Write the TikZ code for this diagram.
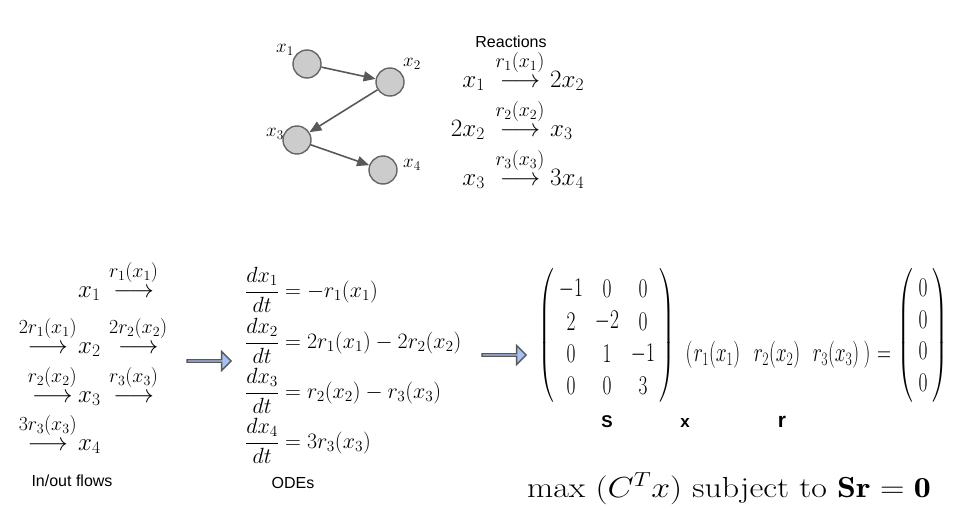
\RequirePackage{fix-cm}
\documentclass[tikz,border=0pt]{standalone}
\usepackage{amsmath}
\usepackage{graphicx}
\usepackage{fontspec}
\newfontfamily\arialf{Liberation Sans}
\usetikzlibrary{arrows.meta,shapes.arrows,matrix}
\definecolor{nodefill}{HTML}{CCCCCC}
\definecolor{nodeline}{HTML}{666666}
\definecolor{edgecol}{HTML}{595959}
\definecolor{blockfill}{HTML}{A4C2F4}
\definecolor{blockline}{HTML}{595959}
\newcommand\sx[1]{\scalebox{0.72}[1]{#1}}
\newcommand\flowarr[1]{\mathrel{\overset{\raisebox{5pt}{\fontsize{20}{24}\selectfont$#1$}}{\longrightarrow}}}
\begin{document}
\begin{tikzpicture}[x=1pt,y=-1pt,
  species/.style={circle, draw=nodeline, fill=nodefill, line width=1.4pt, minimum size=28pt, inner sep=0pt},
  splabel/.style={inner sep=0pt, font=\fontsize{19}{22}\selectfont},
  edge/.style={draw=edgecol, line width=1.6pt, -{Triangle[length=12pt,width=10pt]}},
  rx/.style={inner sep=0pt, font=\fontsize{25}{30}\selectfont},
  ode/.style={inner sep=0pt, font=\fontsize{22}{27}\selectfont},
  mx/.style={inner sep=0pt, font=\fontsize{27}{32}\selectfont},
  caption/.style={inner sep=0pt, font=\arialf\fontsize{16}{19}\selectfont},
  vlabel/.style={inner sep=0pt, font=\arialf\bfseries\fontsize{17}{20}\selectfont},
  block/.style={single arrow, draw=blockline, fill=blockfill, line width=1.3pt,
    minimum width=19pt, minimum height=44pt, single arrow head extend=4.5pt,
    single arrow head indent=0pt, inner sep=0pt}
]
\useasboundingbox (0,0) rectangle (960,522);

% --- network ---
\node[species] (n1) at (307,64) {};
\node[species] (n2) at (390,82) {};
\node[species] (n3) at (297,140) {};
\node[species] (n4) at (383,170) {};
\node[splabel] (l1) at (285,50) {$x_1$};
\node[splabel] (l2) at (412,64) {$x_2$};
\node[splabel] (l3) at (275,134) {$x_3$};
\node[splabel] (l4) at (412,165) {$x_4$};
\draw[edge] (n1) -- (n2);
\draw[edge] (n2) -- (n3);
\draw[edge] (n3) -- (n4);

% --- reactions ---
\node[caption] (reac) at (511,42) {Reactions};
\node[rx, anchor=base east] (ra1) at (485,87) {$x_1$};
\node[rx, anchor=base] (rr1) at (520,87) {$\flowarr{r_1(x_1)}$};
\node[rx, anchor=base west] (rb1) at (550,87) {$2x_2$};
\node[rx, anchor=base east] (ra2) at (485,136) {$2x_2$};
\node[rx, anchor=base] (rr2) at (520,136) {$\flowarr{r_2(x_2)}$};
\node[rx, anchor=base west] (rb2) at (550,136) {$x_3$};
\node[rx, anchor=base east] (ra3) at (485,185) {$x_3$};
\node[rx, anchor=base] (rr3) at (520,185) {$\flowarr{r_3(x_3)}$};
\node[rx, anchor=base west] (rb3) at (550,185) {$3x_4$};

% --- in/out flows ---
\node[rx, anchor=base west] (fx1) at (78,297) {$x_1$};
\node[rx, anchor=base west] (fo1) at (109,297) {$\flowarr{r_1(x_1)}$};
\node[rx, anchor=base east] (fi2) at (77,353) {$\flowarr{2r_1(x_1)}$};
\node[rx, anchor=base west] (fx2) at (78,353) {$x_2$};
\node[rx, anchor=base west] (fo2) at (109,353) {$\flowarr{2r_2(x_2)}$};
\node[rx, anchor=base east] (fi3) at (77,402) {$\flowarr{r_2(x_2)}$};
\node[rx, anchor=base west] (fx3) at (78,402) {$x_3$};
\node[rx, anchor=base west] (fo3) at (109,402) {$\flowarr{r_3(x_3)}$};
\node[rx, anchor=base east] (fi4) at (77,450) {$\flowarr{3r_3(x_3)}$};
\node[rx, anchor=base west] (fx4) at (78,450) {$x_4$};
\node[caption] (flows) at (72,481) {In/out flows};

\node[block] (ba1) at (208.5,361) {};

% --- ODEs ---
\node[ode, anchor=base west] (o1) at (245,297.5) {$\displaystyle\frac{dx_1}{dt} = -r_1(x_1)$};
\node[ode, anchor=base west] (o2) at (245,348.5) {$\displaystyle\frac{dx_2}{dt} = 2r_1(x_1) - 2r_2(x_2)$};
\node[ode, anchor=base west] (o3) at (245,398.5) {$\displaystyle\frac{dx_3}{dt} = r_2(x_2) - r_3(x_3)$};
\node[ode, anchor=base west] (o4) at (245,448.5) {$\displaystyle\frac{dx_4}{dt} = 3r_3(x_3)$};
\node[caption] (odes) at (293,483) {ODEs};

\node[block] (ba2) at (503.5,355) {};

% --- stoichiometric system ---
\node[mx] (Sl) at (547,335.5) {\sx{$\left(\vcenter{\hrule height 126pt width 0pt}\right.$}};
\matrix (S) [matrix of nodes, nodes={mx, minimum width=36pt, minimum height=32.4pt, anchor=center},
  column sep=0pt, row sep=0pt] at (607,337.5) {
  \sx{$-1$} & \sx{$0$} & \sx{$0$} \\
  \sx{$2$} & \sx{$-2$} & \sx{$0$} \\
  \sx{$0$} & \sx{$1$} & \sx{$-1$} \\
  \sx{$0$} & \sx{$0$} & \sx{$3$} \\
};
\node[mx] (Sr) at (667,335.5) {\sx{$\left.\vcenter{\hrule height 126pt width 0pt}\right)$}};

\node[mx, anchor=base] (vl) at (689,361) {\sx{$($}};
\node[mx, anchor=base] (v1) at (717,361) {\sx{$r_1(x_1)$}};
\node[mx, anchor=base] (v2) at (777,361) {\sx{$r_2(x_2)$}};
\node[mx, anchor=base] (v3) at (836,361) {\sx{$r_3(x_3)$}};
\node[mx, anchor=base] (vr) at (867,361) {\sx{$)$}};
\node[mx, anchor=base] (eq) at (884,361) {\sx{$=$}};

\node[mx] (Zl) at (906,335.5) {\sx{$\left(\vcenter{\hrule height 126pt width 0pt}\right.$}};
\matrix (Z) [matrix of nodes, nodes={mx, minimum width=20pt, minimum height=31.5pt, anchor=center},
  row sep=0pt] at (923,335.5) {
  \sx{$0$} \\ \sx{$0$} \\ \sx{$0$} \\ \sx{$0$} \\
};
\node[mx] (Zr) at (940,335.5) {\sx{$\left.\vcenter{\hrule height 126pt width 0pt}\right)$}};

\node[vlabel, anchor=base] (labS) at (607,427) {S};
\node[vlabel, anchor=base] (labx) at (685,427) {x};
\node[vlabel, anchor=base, font=\arialf\bfseries\fontsize{21}{24}\selectfont] (labr) at (782,427) {r};

% --- objective ---
\node[inner sep=0pt, anchor=base, font=\fontsize{29}{34}\selectfont] (obj) at (729,497)
  {\scalebox{1.17}[1]{$\max\ (C^Tx)\ \text{subject to}\ \mathbf{Sr}=\mathbf{0}$}};
\end{tikzpicture}
\end{document}
